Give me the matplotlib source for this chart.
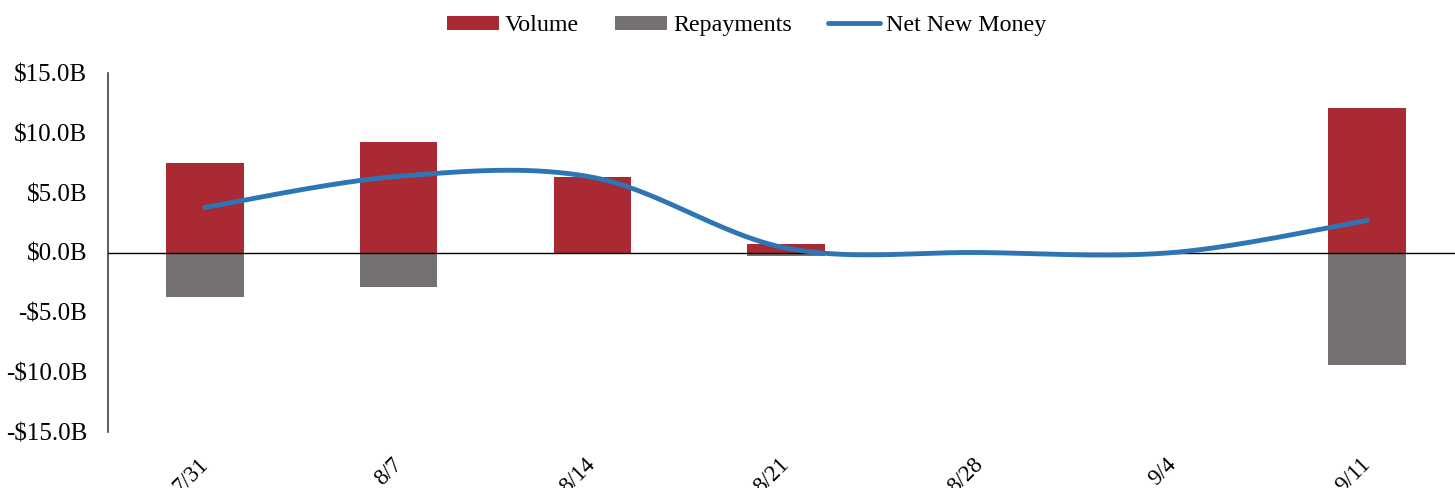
import numpy as np
import matplotlib
matplotlib.use("Agg")
import matplotlib.pyplot as plt
from matplotlib.ticker import FuncFormatter

plt.rcParams['font.family'] = ['Liberation Serif', 'DejaVu Serif']

weeks = ["7/31", "8/7", "8/14", "8/21", "8/28", "9/4", "9/11"]
volume = [7.46, 9.22, 6.29, 0.67, 0.0, 0.0, 12.07]
repayments = [-3.69, -2.85, 0.0, -0.30, 0.0, 0.0, -9.39]
net_new_money = [3.77, 6.37, 6.29, 0.37, 0.0, 0.0, 2.68]

RED = "#A92A32"
GREY = "#767171"
BLUE = "#2E75B6"


def smooth_curve(y, n=40):
    """Catmull-Rom style smoothing through every point (Bezier segments)."""
    y = np.asarray(y, dtype=float)
    x = np.arange(len(y), dtype=float)
    xs, ys = [], []
    for i in range(len(y) - 1):
        p0 = np.array([x[i], y[i]])
        p3 = np.array([x[i + 1], y[i + 1]])
        prev = np.array([x[i - 1], y[i - 1]]) if i > 0 else p0
        nxt = np.array([x[i + 2], y[i + 2]]) if i + 2 < len(y) else p3
        p1 = p0 + (p3 - prev) / 6.0
        p2 = p3 - (nxt - p0) / 6.0
        t = np.linspace(0, 1, n)[:, None]
        pts = ((1 - t) ** 3) * p0 + 3 * ((1 - t) ** 2) * t * p1 + 3 * (1 - t) * t ** 2 * p2 + t ** 3 * p3
        xs.append(pts[:, 0])
        ys.append(pts[:, 1])
    return np.concatenate(xs), np.concatenate(ys)


fig = plt.figure(figsize=(14.55, 4.88), dpi=100)
ax = fig.add_axes([108 / 1455, 56 / 488, 1356 / 1455, 359 / 488])

idx = np.arange(len(weeks))
b_vol = ax.bar(idx, volume, width=0.4, color=RED, label="Volume", zorder=2)
b_rep = ax.bar(idx, repayments, width=0.4, color=GREY, label="Repayments", zorder=2)
ax.axhline(0, color="black", lw=1.0, zorder=3)
sx, sy = smooth_curve(net_new_money)
ln, = ax.plot(sx, sy, color=BLUE, lw=3.5, solid_capstyle="round", label="Net New Money", zorder=4)

ax.set_xlim(-0.5, len(weeks) - 0.5)
ax.set_ylim(-15, 15)
ax.set_yticks(np.arange(-15, 16, 5))
ax.yaxis.set_major_formatter(FuncFormatter(
    lambda v, _: ("-$%.1fB" % abs(v)) if v < 0 else ("$%.1fB" % v)))
ax.tick_params(axis="y", length=0, pad=15, labelsize=18)
ax.set_xticks(idx)
ax.set_xticklabels(weeks, rotation=45, ha="right", va="center",
                   rotation_mode="anchor", fontsize=16.5)
ax.tick_params(axis="x", length=0, pad=21)

for side in ("top", "right", "bottom"):
    ax.spines[side].set_visible(False)
ax.spines["left"].set_color("#404040")
ax.spines["left"].set_linewidth(1.2)

fig.legend([b_vol, b_rep, ln], ["Volume", "Repayments", "Net New Money"],
           loc="upper center", bbox_to_anchor=(0.513, 1.013), ncol=3, frameon=False,
           fontsize=17.3, handlelength=2.16, handleheight=0.55, columnspacing=1.5,
           handletextpad=0.25)

fig.savefig("out.png", dpi=100)
